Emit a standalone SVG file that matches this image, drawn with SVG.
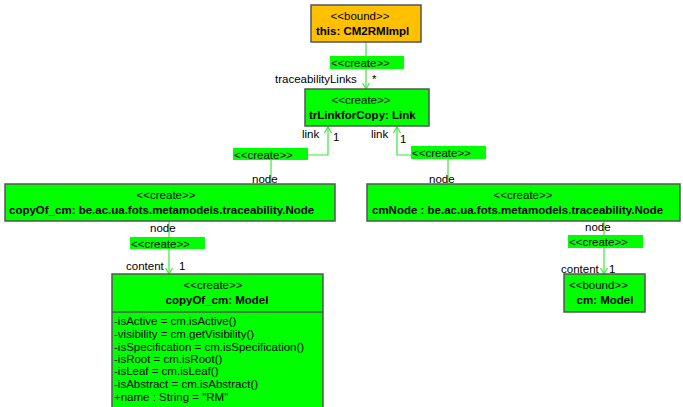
<svg xmlns="http://www.w3.org/2000/svg" width="683" height="407" viewBox="0 0 683 407">
<defs>
<marker id="arr" markerWidth="10" markerHeight="10" refX="9" refY="5" orient="auto" markerUnits="userSpaceOnUse" viewBox="0 0 10 10">
<path d="M3,1.5 L9,5 L3,8.5" fill="none" stroke="#3ce83c" stroke-width="1.2"/>
</marker>
<style>
text{font-family:"Liberation Sans",Arial,sans-serif;font-size:11.5px;fill:#000}
.b{font-weight:bold;font-size:11.5px}
.c{text-anchor:middle}
.box{stroke:#555;stroke-width:1.5}
.g{fill:#00ff00}
.o{fill:#ffc000}
.lbl{fill:#00ff00;stroke:none}
.ln{fill:none;stroke:#3ce83c;stroke-width:1.2}
</style>
</defs>
<g id="connectors">
<path class="ln" d="M366,42 L366,89" marker-end="url(#arr)"/>
<rect class="lbl" x="330" y="56" width="74" height="13"/>
<text x="331" y="67">&lt;&lt;create&gt;&gt;</text>
<text x="275" y="83">traceabilityLinks</text>
<text x="372" y="83">*</text>

<path class="ln" d="M271,183 L271,155 L328,155 L328,127" marker-end="url(#arr)"/>
<rect class="lbl" x="233" y="148" width="75" height="12"/>
<text x="234" y="159">&lt;&lt;create&gt;&gt;</text>
<text x="302" y="138">link</text>
<text x="333" y="141">1</text>
<text x="252" y="183">node</text>

<path class="ln" d="M448,183 L448,155 L397,155 L397,127" marker-end="url(#arr)"/>
<rect class="lbl" x="411" y="146" width="75" height="13"/>
<text x="412" y="157">&lt;&lt;create&gt;&gt;</text>
<text x="371" y="138">link</text>
<text x="400" y="143">1</text>
<text x="429" y="183">node</text>

<path class="ln" d="M169,221 L169,274" marker-end="url(#arr)"/>
<rect class="lbl" x="130" y="237" width="75" height="12"/>
<text x="131" y="248">&lt;&lt;create&gt;&gt;</text>
<text x="150" y="232">node</text>
<text x="126" y="270">content</text>
<text x="179" y="270">1</text>

<path class="ln" d="M604,221 L604,274" marker-end="url(#arr)"/>
<rect class="lbl" x="568" y="235" width="75" height="13"/>
<text x="569" y="246">&lt;&lt;create&gt;&gt;</text>
<text x="585" y="231">node</text>
<text x="561" y="273">content</text>
<text x="609" y="273">1</text>
</g>
<g id="this">
<rect class="box o" x="311" y="5" width="110" height="37"/>
<text class="c" x="360" y="20">&lt;&lt;bound&gt;&gt;</text>
<text class="b" x="316" y="35">this: CM2RMImpl</text>
</g>
<g id="trLinkforCopy">
<rect class="box g" x="305" y="89" width="124" height="37"/>
<text class="c" x="361" y="104">&lt;&lt;create&gt;&gt;</text>
<text class="b" x="309" y="119">trLinkforCopy: Link</text>
</g>
<g id="copyOfNode">
<rect class="box g" x="5" y="184" width="330" height="37"/>
<text class="c" x="166" y="199">&lt;&lt;create&gt;&gt;</text>
<text class="b" x="9" y="214">copyOf_cm: be.ac.ua.fots.metamodels.traceability.Node</text>
</g>
<g id="cmNode">
<rect class="box g" x="367" y="184" width="313" height="37"/>
<text class="c" x="523" y="199">&lt;&lt;create&gt;&gt;</text>
<text class="b" x="372" y="214">cmNode : be.ac.ua.fots.metamodels.traceability.Node</text>
</g>
<g id="copyOfModel">
<rect class="box g" x="112" y="274" width="211" height="140"/>
<line class="box" x1="112" y1="312" x2="323" y2="312"/>
<text class="c" x="213" y="289">&lt;&lt;create&gt;&gt;</text>
<text class="b c" x="217" y="304">copyOf_cm: Model</text>
<text x="114" y="325">-isActive = cm.isActive()</text>
<text x="114" y="338">-visibility = cm.getVisibility()</text>
<text x="114" y="351">-isSpecification = cm.isSpecification()</text>
<text x="114" y="363">-isRoot = cm.isRoot()</text>
<text x="114" y="375">-isLeaf = cm.isLeaf()</text>
<text x="114" y="388">-isAbstract = cm.isAbstract()</text>
<text x="114" y="401">+name : String = "RM"</text>
</g>
<g id="cmModel">
<rect class="box g" x="564" y="274" width="81" height="38"/>
<text x="569" y="289">&lt;&lt;bound&gt;&gt;</text>
<text class="b c" x="605" y="304">cm: Model</text>
</g>
</svg>
